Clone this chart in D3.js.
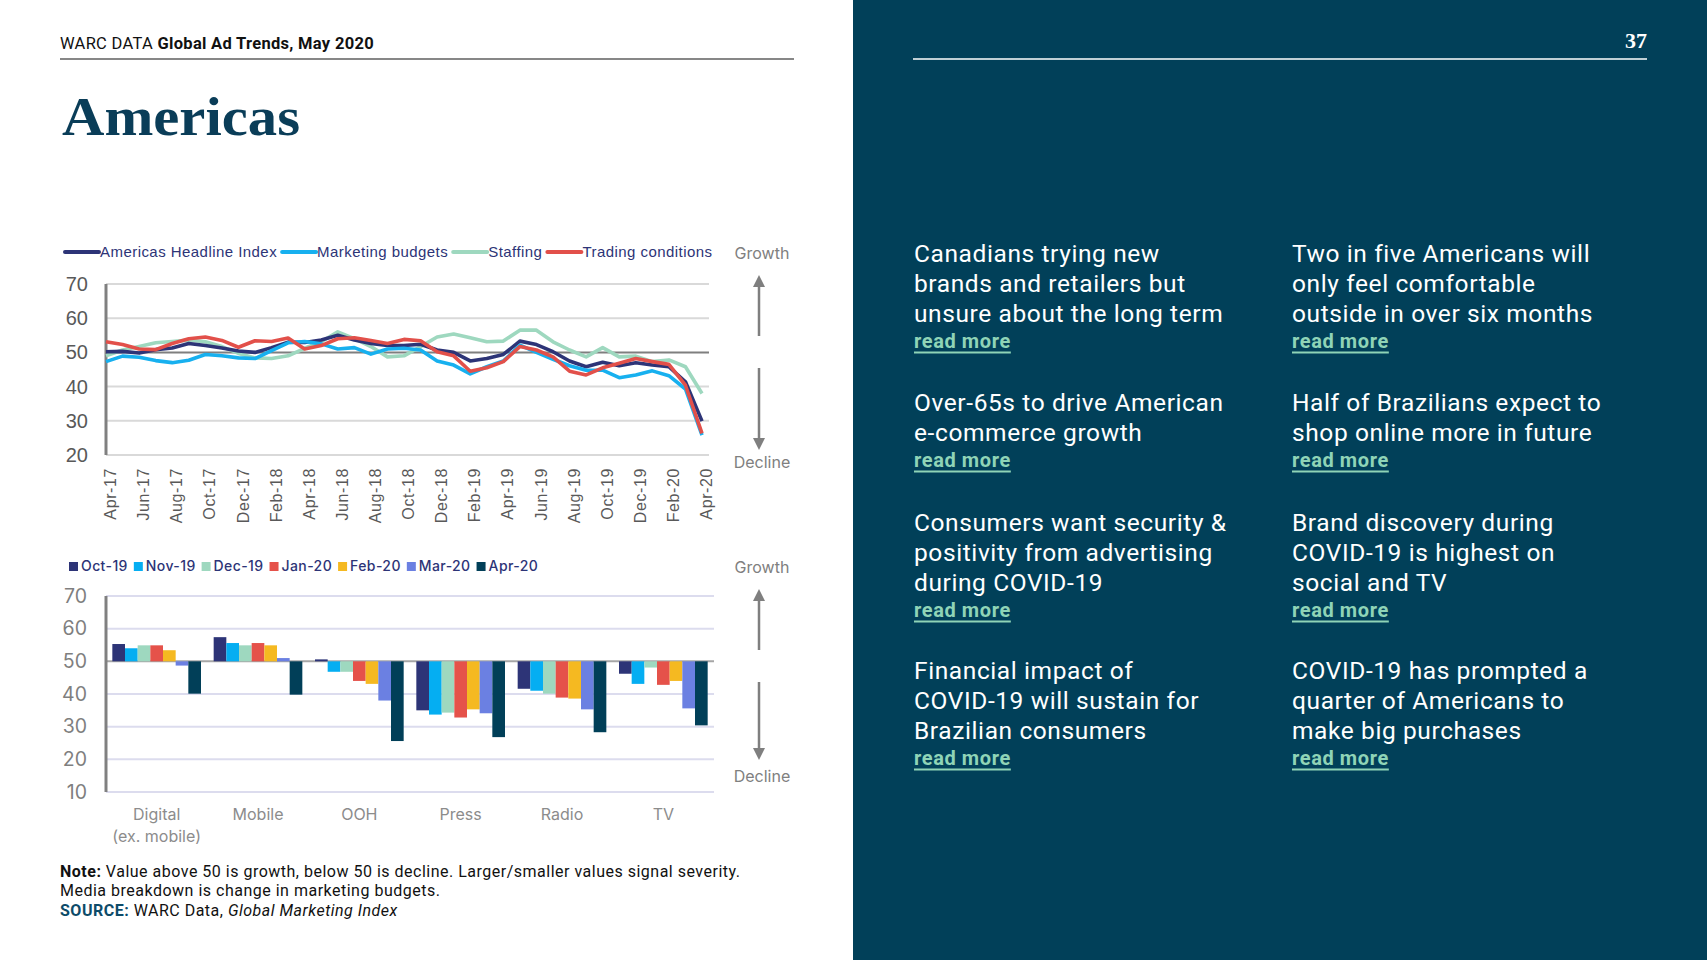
<!DOCTYPE html>
<html>
<head>
<meta charset="utf-8">
<script src="https://cdn.jsdelivr.net/npm/d3@7"></script>
<style>
body { margin: 0; background: #fff; }
</style>
</head>
<body>
<div id="page"></div>
<script>
// line chart data (Global Marketing Index, Americas)
var months = ["Apr-17","May-17","Jun-17","Jul-17","Aug-17","Sep-17","Oct-17","Nov-17","Dec-17","Jan-18","Feb-18","Mar-18",
    "Apr-18","May-18","Jun-18","Jul-18","Aug-18","Sep-18","Oct-18","Nov-18","Dec-18","Jan-19","Feb-19","Mar-19",
    "Apr-19","May-19","Jun-19","Jul-19","Aug-19","Sep-19","Oct-19","Nov-19","Dec-19","Jan-20","Feb-20","Mar-20","Apr-20"];
var monthTicks = ["Apr-17","Jun-17","Aug-17","Oct-17","Dec-17","Feb-18","Apr-18","Jun-18","Aug-18","Oct-18",
    "Dec-18","Feb-19","Apr-19","Jun-19","Aug-19","Oct-19","Dec-19","Feb-20","Apr-20"];
var headline = [50.2,50.3,49.8,50.8,51.3,52.6,52.0,51.3,50.4,50.0,51.4,53.0,52.9,53.6,55.0,53.6,52.6,52.0,52.0,52.4,
    50.7,50.0,47.5,48.2,49.4,53.3,52.3,50.2,47.5,45.8,47.1,46.1,47.0,46.3,45.8,41.4,29.9];
var budgets = [47.3,48.9,48.6,47.6,47.0,47.7,49.4,49.0,48.4,48.2,50.5,52.8,53.2,52.5,51.0,51.4,49.5,51.0,51.2,50.7,
    47.5,46.3,43.7,45.8,47.5,52.1,50.0,48.0,46.1,44.8,44.8,42.6,43.4,44.6,43.2,39.3,25.8];
var staffing = [49.0,50.7,51.7,52.8,53.2,53.6,53.1,51.7,49.7,48.4,48.2,49.0,51.2,53.1,56.0,54.0,51.7,48.7,49.0,51.7,
    54.5,55.4,54.3,53.1,53.3,56.5,56.5,53.1,50.7,48.7,51.4,48.7,48.9,47.3,47.8,45.8,38.0];
var trading = [53.1,52.3,51.0,50.8,52.6,54.0,54.5,53.5,51.5,53.4,53.2,54.2,51.0,52.0,54.0,54.3,53.5,52.6,53.8,53.4,
    50.2,49.0,44.5,45.5,47.3,51.7,50.7,48.7,44.5,43.4,45.5,46.8,48.2,47.3,46.5,40.4,26.3];
var lineNames = ["Americas Headline Index","Marketing budgets","Staffing","Trading conditions"];
var lineColors = ["#2d3477","#17b0ef","#9ed8bf","#e2504a"];
var lineTicks = [20,30,40,50,60,70];

// bar chart data (media breakdown of marketing budgets)
var media = ["Digital","Mobile","OOH","Press","Radio","TV"];
var waves = ["Oct-19","Nov-19","Dec-19","Jan-20","Feb-20","Mar-20","Apr-20"];
var digital = [55.3,54.0,54.9,54.9,53.4,48.7,40.1];
var mobile = [57.4,55.6,54.9,55.6,54.9,51.0,39.8];
var ooh = [50.6,46.8,46.8,44.0,43.1,38.0,25.6];
var press = [35.0,33.7,34.3,32.8,35.3,34.1,26.8];
var radio = [41.6,41.0,40.1,38.9,38.6,35.3,28.3];
var tv = [46.2,43.1,48.1,42.8,44.0,35.6,30.4];
var waveColors = ["#2d3477","#05aef2","#9ed8bf","#e5524a","#f5b921","#6b80e2","#013f58"];
var barTicks = [10,20,30,40,50,60,70];

var stories = [
    {col: 0, y: 254, lines: ["Canadians trying new","brands and retailers but","unsure about the long term"]},
    {col: 0, y: 403, lines: ["Over-65s to drive American","e-commerce growth"]},
    {col: 0, y: 523, lines: ["Consumers want security &","positivity from advertising","during COVID-19"]},
    {col: 0, y: 671, lines: ["Financial impact of","COVID-19 will sustain for","Brazilian consumers"]},
    {col: 1, y: 254, lines: ["Two in five Americans will","only feel comfortable","outside in over six months"]},
    {col: 1, y: 403, lines: ["Half of Brazilians expect to","shop online more in future"]},
    {col: 1, y: 523, lines: ["Brand discovery during","COVID-19 is highest on","social and TV"]},
    {col: 1, y: 671, lines: ["COVID-19 has prompted a","quarter of Americans to","make big purchases"]}
];

var svg = d3.select("#page").append("svg")
    .attr("width", 1707)
    .attr("height", 960)
    .attr("font-family", "Roboto, sans-serif");

svg.append("rect").attr("x", 0).attr("y", 0).attr("width", 1707).attr("height", 960).attr("fill", "#fff");

// header
var head = svg.append("text").attr("x", 60).attr("y", 49).attr("font-size", 16.5)
    .attr("letter-spacing", 0.3).attr("fill", "#111");
head.append("tspan").text("WARC DATA ");
head.append("tspan").attr("font-weight", "bold").text("Global Ad Trends, May 2020");
svg.append("line").attr("x1", 60).attr("x2", 794).attr("y1", 59).attr("y2", 59)
    .attr("stroke", "#111").attr("stroke-width", 1.2);

svg.append("text")
    .attr("x", 62).attr("y", 135)
    .attr("font-family", "'Liberation Serif', 'DejaVu Serif', serif")
    .attr("font-weight", "bold")
    .attr("font-size", 54)
    .attr("textLength", 238)
    .attr("lengthAdjust", "spacingAndGlyphs")
    .attr("fill", "#0a3d58")
    .text("Americas");

// ---------- line chart ----------
var x = d3.scalePoint().domain(months).range([106, 702]);
var y = d3.scaleLinear().domain([20, 70]).range([455, 284]);

svg.append("g").selectAll("line")
    .data(lineTicks)
    .enter()
    .append("line")
    .attr("x1", 106).attr("x2", 709)
    .attr("y1", d => y(d)).attr("y2", d => y(d))
    .attr("stroke", d => d === 50 ? "#7f7f7f" : "#d9d9d9")
    .attr("stroke-width", 2);

svg.append("line").attr("x1", 106).attr("x2", 106).attr("y1", y(70)).attr("y2", y(20))
    .attr("stroke", "#808080").attr("stroke-width", 3);

var yAx = svg.append("g")
    .attr("transform", "translate(88,0)")
    .call(d3.axisLeft(y).tickValues(lineTicks).tickSize(0).tickPadding(0));
yAx.select(".domain").remove();
yAx.selectAll("text")
    .attr("font-family", "'Liberation Sans', Arial, sans-serif")
    .attr("font-size", 20)
    .attr("fill", "#595959");

var xAx = svg.append("g")
    .attr("transform", "translate(4,455)")
    .call(d3.axisBottom(x).tickValues(monthTicks).tickSize(0));
xAx.select(".domain").remove();
xAx.selectAll("text")
    .attr("font-family", "'Liberation Sans', Arial, sans-serif")
    .attr("font-size", 16)
    .attr("letter-spacing", 0.6)
    .attr("fill", "#595959")
    .attr("transform", "rotate(-90)")
    .attr("text-anchor", "end")
    .attr("x", -13)
    .attr("y", 0)
    .attr("dy", "0.35em");

var seriesData = [headline, budgets, staffing, trading];
var drawOrder = [2, 0, 1, 3];
var line = d3.line().x((d, i) => x(months[i])).y(d => y(d));

drawOrder.forEach(function(k) {
    svg.append("path")
        .datum(seriesData[k])
        .attr("d", line)
        .attr("fill", "none")
        .attr("stroke", lineColors[k])
        .attr("stroke-width", 3.6)
        .attr("stroke-linejoin", "round");
});

// line legend
var lx = 65;
lineNames.forEach(function(name, k) {
    svg.append("line")
        .attr("x1", lx).attr("x2", lx + 34).attr("y1", 252).attr("y2", 252)
        .attr("stroke", lineColors[k]).attr("stroke-width", 4).attr("stroke-linecap", "round");
    var t = svg.append("text")
        .attr("x", lx + 35).attr("y", 257)
        .attr("font-family", "'Liberation Sans', Arial, sans-serif")
        .attr("font-size", 15)
        .attr("letter-spacing", 0.45)
        .attr("fill", "#2d3477")
        .text(name);
    lx += 35 + t.node().getComputedTextLength() + 5;
});

// ---------- bar chart ----------
var x0 = d3.scaleBand().domain(media).range([106, 714]).paddingInner(0.125).paddingOuter(0.0625);
var x1 = d3.scaleBand().domain(waves).range([0, x0.bandwidth()]);
var yb = d3.scaleLinear().domain([10, 70]).range([792, 596]);

svg.append("g").selectAll("line")
    .data(barTicks)
    .enter()
    .append("line")
    .attr("x1", 106).attr("x2", 714)
    .attr("y1", d => yb(d)).attr("y2", d => yb(d))
    .attr("stroke", d => d === 50 ? "#a6a6a6" : "#dcdcee")
    .attr("stroke-width", 2);

var barData = [digital, mobile, ooh, press, radio, tv];
barData.forEach(function(vals, m) {
    svg.append("g")
        .attr("transform", `translate(${x0(media[m])},0)`)
        .selectAll("rect")
        .data(vals)
        .enter()
        .append("rect")
        .attr("x", (d, i) => x1(waves[i]))
        .attr("width", x1.bandwidth())
        .attr("y", d => yb(Math.max(d, 50)))
        .attr("height", d => Math.abs(yb(d) - yb(50)))
        .attr("fill", (d, i) => waveColors[i]);
});

svg.append("line").attr("x1", 106).attr("x2", 106).attr("y1", yb(70)).attr("y2", yb(10))
    .attr("stroke", "#808080").attr("stroke-width", 3);

var ybAx = svg.append("g")
    .attr("transform", "translate(87,0)")
    .call(d3.axisLeft(yb).tickValues(barTicks).tickSize(0).tickPadding(0));
ybAx.select(".domain").remove();
ybAx.selectAll("text")
    .attr("font-family", "Inter, sans-serif")
    .attr("font-size", 19.5)
    .attr("fill", "#7f7f7f");

svg.append("g").selectAll("text")
    .data(media)
    .enter()
    .append("text")
    .attr("x", d => x0(d) + x0.bandwidth() / 2)
    .attr("y", 820)
    .attr("text-anchor", "middle")
    .attr("font-family", "Inter, sans-serif")
    .attr("font-size", 16)
    .attr("fill", "#8c8c8c")
    .text(d => d);
svg.append("text")
    .attr("x", x0("Digital") + x0.bandwidth() / 2)
    .attr("y", 842)
    .attr("text-anchor", "middle")
    .attr("font-family", "Inter, sans-serif")
    .attr("font-size", 16)
    .attr("fill", "#8c8c8c")
    .text("(ex. mobile)");

// bar legend
var bx = 69;
waves.forEach(function(w, i) {
    svg.append("rect").attr("x", bx).attr("y", 562).attr("width", 9).attr("height", 9).attr("fill", waveColors[i]);
    var t = svg.append("text")
        .attr("x", bx + 12).attr("y", 571)
        .attr("font-family", "Inter, sans-serif")
        .attr("font-weight", 500)
        .attr("font-size", 14)
        .attr("letter-spacing", 0.4)
        .attr("fill", "#2d3477")
        .text(w);
    bx += 12 + t.node().getComputedTextLength() + 6;
});

// growth / decline arrows
function arrow(x, yFrom, yTip) {
    var dir = yTip < yFrom ? 1 : -1;
    svg.append("line").attr("x1", x).attr("x2", x).attr("y1", yFrom).attr("y2", yTip + dir * 10)
        .attr("stroke", "#7f7f7f").attr("stroke-width", 2.5);
    svg.append("path")
        .attr("d", `M${x},${yTip} L${x - 6},${yTip + dir * 12} L${x + 6},${yTip + dir * 12} Z`)
        .attr("fill", "#7f7f7f");
}
function sideLabel(txt, yy) {
    svg.append("text").attr("x", 762).attr("y", yy).attr("text-anchor", "middle")
        .attr("font-family", "Inter, sans-serif").attr("font-size", 16).attr("fill", "#808080").text(txt);
}
sideLabel("Growth", 259);
sideLabel("Decline", 468);
arrow(759, 336, 275);
arrow(759, 368, 450);
sideLabel("Growth", 573);
sideLabel("Decline", 782);
arrow(759, 650, 589);
arrow(759, 682, 760);

// footer notes
var n1 = svg.append("text").attr("x", 60).attr("y", 877).attr("font-size", 16)
    .attr("letter-spacing", 0.5).attr("fill", "#111");
n1.append("tspan").attr("font-weight", "bold").text("Note:");
n1.append("tspan").text(" Value above 50 is growth, below 50 is decline. Larger/smaller values signal severity.");
svg.append("text").attr("x", 60).attr("y", 896).attr("font-size", 16).attr("letter-spacing", 0.5)
    .attr("fill", "#111")
    .text("Media breakdown is change in marketing budgets.");
var n3 = svg.append("text").attr("x", 60).attr("y", 916).attr("font-size", 16)
    .attr("letter-spacing", 0.5).attr("fill", "#111");
n3.append("tspan").attr("font-weight", "bold").attr("fill", "#0d4b69").text("SOURCE:");
n3.append("tspan").text(" WARC Data, ");
n3.append("tspan").attr("font-style", "italic").text("Global Marketing Index");

// ---------- right panel ----------
svg.append("rect").attr("x", 853).attr("y", 0).attr("width", 854).attr("height", 960).attr("fill", "#014059");
svg.append("line").attr("x1", 913).attr("x2", 1647).attr("y1", 59).attr("y2", 59)
    .attr("stroke", "#fff").attr("stroke-width", 1.5);
svg.append("text")
    .attr("x", 1647).attr("y", 48)
    .attr("text-anchor", "end")
    .attr("font-family", "'Liberation Serif', serif")
    .attr("font-weight", "bold")
    .attr("font-size", 22)
    .attr("fill", "#fff")
    .text("37");

var colX = [914, 1292];
stories.forEach(function(s) {
    s.lines.forEach(function(l, i) {
        svg.append("text")
            .attr("x", colX[s.col]).attr("y", s.y + 8 + i * 30)
            .attr("font-size", 24.5)
            .attr("letter-spacing", 0.6)
            .attr("fill", "#fff")
            .text(l);
    });
    var ry = s.y + 8 + (s.lines.length - 1) * 30 + 28;
    var rm = svg.append("text")
        .attr("x", colX[s.col]).attr("y", ry - 2)
        .attr("font-size", 20)
        .attr("letter-spacing", 0.6)
        .attr("font-weight", "bold")
        .attr("fill", "#8fd4b7")
        .text("read more");
    svg.append("rect")
        .attr("x", colX[s.col]).attr("y", ry + 1.5)
        .attr("width", rm.node().getComputedTextLength()).attr("height", 2)
        .attr("fill", "#8fd4b7");
});
</script>
</body>
</html>
